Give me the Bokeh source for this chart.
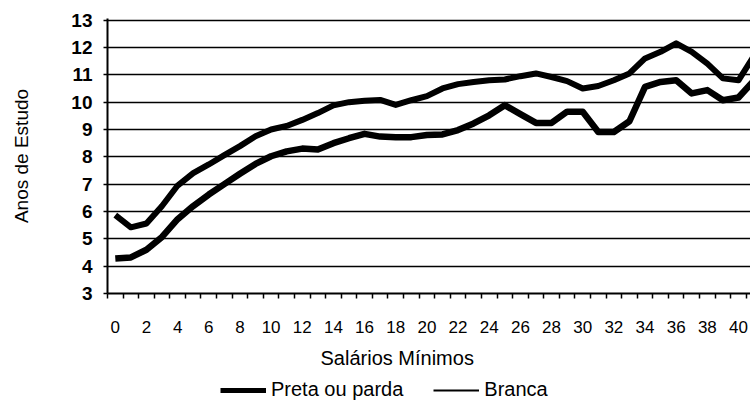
from bokeh.plotting import figure
from bokeh.layouts import column
from bokeh.models import Range1d, FixedTicker, Legend, LegendItem, Title, ColumnDataSource
from bokeh.embed import file_html
from bokeh.resources import INLINE

salarios = list(range(0, 42))
branca = [5.87, 5.42, 5.56, 6.2, 6.95, 7.4, 7.72, 8.06, 8.39, 8.75,
          9.0, 9.13, 9.35, 9.6, 9.88, 10.0, 10.05, 10.08, 9.9, 10.07,
          10.22, 10.5, 10.66, 10.74, 10.8, 10.83, 10.95, 11.05, 10.92, 10.77,
          10.5, 10.59, 10.8, 11.05, 11.6, 11.84, 12.15, 11.84, 11.41, 10.87,
          10.8, 11.7]
preta = [4.28, 4.32, 4.6, 5.07, 5.72, 6.2, 6.62, 7.0, 7.38, 7.74,
         8.02, 8.2, 8.3, 8.27, 8.5, 8.68, 8.84, 8.74, 8.72, 8.72,
         8.8, 8.82, 8.98, 9.22, 9.52, 9.89, 9.56, 9.24, 9.24, 9.65,
         9.65, 8.91, 8.91, 9.3, 10.56, 10.74, 10.8, 10.32, 10.44, 10.07,
         10.17, 10.8]
x_tick_labels = list(range(0, 41, 2))
y_ticks = list(range(3, 14))

FONT = "Liberation Sans"

src = ColumnDataSource(dict(x=salarios, b=branca, pp=preta))

# ---------------- main chart ----------------
p = figure(width=750, height=379, output_backend="svg", toolbar_location=None,
           x_range=Range1d(-0.5, 40.77), y_range=Range1d(3, 13.06),
           min_border_left=107, min_border_top=18, min_border_right=0, min_border_bottom=86)
p.outline_line_color = None
p.background_fill_color = "white"
p.border_fill_color = "white"

p.line("x", "b", source=src, line_color="black", line_width=6, line_join="round")
p.line("x", "pp", source=src, line_color="black", line_width=6.5, line_join="round")

xa = p.xaxis[0]
xa.ticker = FixedTicker(ticks=x_tick_labels, minor_ticks=[v - 0.5 for v in salarios])
xa.major_tick_out = 0
xa.major_tick_in = 0
xa.minor_tick_out = 5
xa.minor_tick_in = 0
xa.minor_tick_line_color = "black"
xa.minor_tick_line_width = 1.5
xa.axis_line_color = "black"
xa.axis_line_width = 2
xa.major_label_standoff = 22
xa.major_label_text_font = FONT
xa.major_label_text_font_size = "17px"
xa.major_label_text_color = "black"

ya = p.yaxis[0]
ya.ticker = FixedTicker(ticks=y_ticks)
ya.major_tick_out = 4
ya.major_tick_in = 0
ya.minor_tick_out = 0
ya.minor_tick_in = 0
ya.major_tick_line_color = "black"
ya.major_tick_line_width = 1.5
ya.axis_line_color = "black"
ya.axis_line_width = 2
ya.major_label_standoff = 11
ya.major_label_text_font = FONT
ya.major_label_text_font_size = "19px"
ya.major_label_text_font_style = "bold"
ya.major_label_text_color = "black"
ya.axis_label = "Anos de Estudo"
ya.axis_label_text_font = FONT
ya.axis_label_text_font_size = "19px"
ya.axis_label_text_font_style = "normal"
ya.axis_label_text_color = "black"
ya.axis_label_standoff = 36

p.xgrid.visible = False
p.ygrid.ticker = FixedTicker(ticks=y_ticks)
p.ygrid.grid_line_color = "black"
p.ygrid.grid_line_width = 1.3

xt = Title(text="Salários Mínimos", align="left", offset=213,
           text_font=FONT, text_font_size="20px", text_font_style="normal",
           text_color="black", standoff=19)
p.add_layout(xt, "below")

# ---------------- legend strip ----------------
q = figure(width=750, height=22, output_backend="svg", toolbar_location=None,
           x_range=Range1d(0, 1), y_range=Range1d(0, 1),
           x_axis_location=None, y_axis_location=None,
           min_border_left=0, min_border_right=0, min_border_top=0, min_border_bottom=0)
q.outline_line_color = None
q.xgrid.visible = False
q.ygrid.visible = False
q.border_fill_color = "white"
q.background_fill_color = "white"
# series lines (outside this strip's view) that carry the legend keys
lp = q.line("x", "pp", source=src, line_color="black", line_width=5)
lb = q.line("x", "b", source=src, line_color="black", line_width=2)

legend = Legend(items=[LegendItem(label="Preta ou parda", renderers=[lp]),
                       LegendItem(label="Branca", renderers=[lb])],
                orientation="horizontal", location=(113, 0),
                glyph_width=46, glyph_height=16, label_standoff=5, spacing=30,
                padding=0, margin=0, border_line_color=None,
                background_fill_alpha=0,
                label_text_font=FONT, label_text_font_size="20px",
                label_text_color="black")
q.add_layout(legend, "center")

open("out.html", "w").write(file_html(column(p, q, spacing=0), INLINE))
